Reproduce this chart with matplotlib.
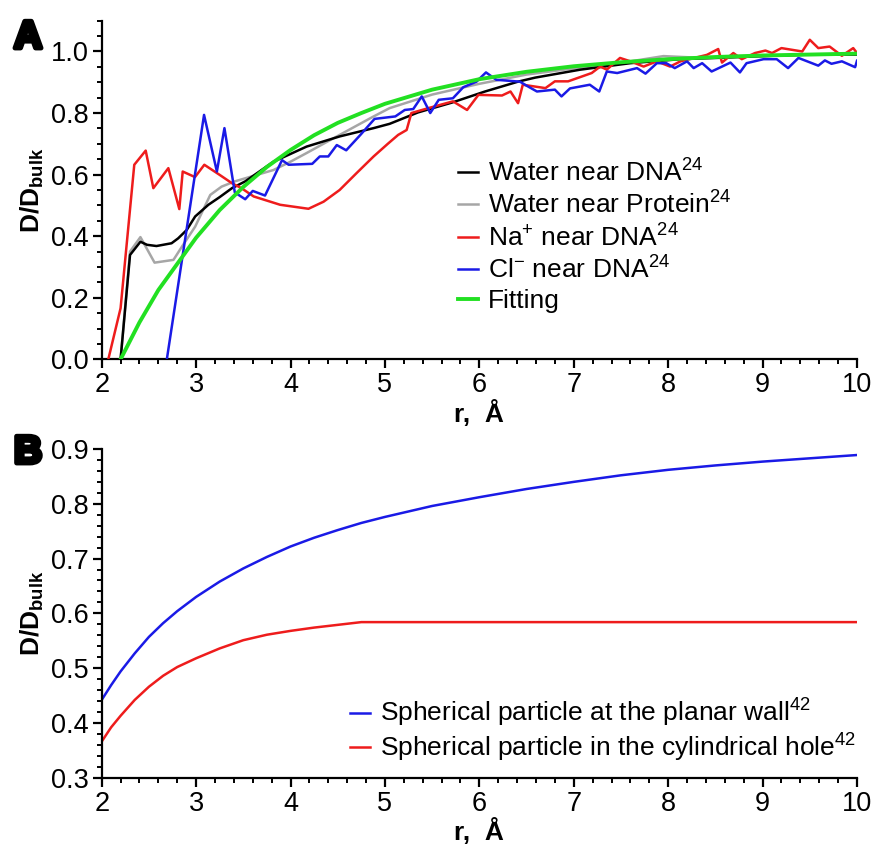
"""
Diffusion coefficient near surfaces, two panels.
A: simulated D/Dbulk of water and ions near DNA / protein with a fit.
B: hydrodynamic estimates for a sphere near a wall and in a cylindrical hole.
"""

import matplotlib
matplotlib.use("Agg")
import matplotlib.pyplot as plt
from matplotlib.ticker import MultipleLocator, FormatStrFormatter
import matplotlib.patheffects as pe

plt.rcParams['font.family'] = ['Liberation Sans', 'DejaVu Sans']
plt.rcParams['mathtext.fontset'] = 'custom'
plt.rcParams['mathtext.rm'] = 'Liberation Sans'
plt.rcParams['mathtext.it'] = 'Liberation Sans:italic'
plt.rcParams['mathtext.bf'] = 'Liberation Sans:bold'

# =========================================================================
#  Panel A data
# =========================================================================
r_wdna = [2.2, 2.3, 2.41, 2.48, 2.58, 2.74, 2.81, 2.9, 2.99, 3.13, 3.25, 3.38,
          3.52, 3.82, 4.17, 4.52, 4.88, 5.05, 5.35, 5.71, 6.06, 6.41, 6.59,
          7.07, 7.6, 8.13, 8.6, 9.0, 9.5, 10.0]
d_wdna = [0.0, 0.339, 0.382, 0.372, 0.368, 0.377, 0.393, 0.42, 0.464, 0.502,
          0.527, 0.556, 0.578, 0.642, 0.691, 0.724, 0.751, 0.765, 0.802, 0.834,
          0.87, 0.902, 0.915, 0.941, 0.962, 0.975, 0.98, 0.985, 0.99, 0.99]

r_wprot = [2.2, 2.3, 2.41, 2.56, 2.76, 2.85, 2.99, 3.15, 3.27, 3.41, 3.52, 3.82,
           4.0, 4.17, 4.52, 4.88, 5.05, 5.5, 6.0, 6.5, 7.0, 7.5, 7.95, 8.3,
           9.0, 9.5, 10.0]
d_wprot = [0.0, 0.35, 0.397, 0.314, 0.323, 0.366, 0.431, 0.534, 0.561, 0.578,
           0.588, 0.615, 0.642, 0.67, 0.729, 0.789, 0.816, 0.86, 0.895, 0.925,
           0.945, 0.963, 0.985, 0.98, 0.985, 0.99, 0.99]

r_na = [2.07, 2.2, 2.345, 2.466, 2.547, 2.706, 2.822, 2.858, 2.988, 3.087, 3.25,
        3.38, 3.48, 3.61, 3.89, 4.19, 4.35, 4.52, 4.7, 4.88, 5.03, 5.14, 5.23,
        5.28, 5.46, 5.72, 5.87, 5.99, 6.24, 6.33, 6.41, 6.46, 6.59, 6.7, 6.8,
        6.94, 7.07, 7.19, 7.28, 7.35, 7.49, 7.6, 7.74, 7.88, 8.02, 8.13, 8.41,
        8.53, 8.57, 8.69, 8.78, 8.92, 9.03, 9.1, 9.2, 9.42, 9.5, 9.59, 9.71,
        9.84, 9.96, 10.0]
d_na = [0.0, 0.166, 0.632, 0.678, 0.556, 0.621, 0.488, 0.61, 0.592, 0.632, 0.599,
        0.572, 0.556, 0.529, 0.502, 0.489, 0.512, 0.55, 0.605, 0.659, 0.70,
        0.729, 0.745, 0.80, 0.816, 0.838, 0.81, 0.859, 0.857, 0.87, 0.832, 0.892,
        0.886, 0.881, 0.903, 0.903, 0.917, 0.93, 0.951, 0.941, 0.979, 0.968,
        0.951, 0.968, 0.951, 0.968, 0.989, 1.008, 0.964, 0.995, 0.975, 0.995,
        1.003, 0.995, 1.011, 1.0, 1.038, 1.011, 1.016, 0.986, 1.011, 0.995]

r_cl = [2.69, 3.084, 3.22, 3.3, 3.41, 3.52, 3.6, 3.73, 3.91, 3.98, 4.23, 4.31,
        4.4, 4.49, 4.59, 4.74, 4.89, 5.11, 5.21, 5.3, 5.39, 5.48, 5.57, 5.72,
        5.83, 5.97, 6.07, 6.18, 6.43, 6.5, 6.61, 6.8, 6.87, 6.96, 7.17, 7.27,
        7.35, 7.46, 7.67, 7.76, 7.88, 7.98, 8.07, 8.2, 8.27, 8.36, 8.46, 8.66,
        8.76, 8.83, 9.01, 9.15, 9.27, 9.38, 9.59, 9.66, 9.73, 9.84, 9.98, 10.0]
d_cl = [0.0, 0.794, 0.61, 0.751, 0.542, 0.52, 0.547, 0.532, 0.647, 0.632, 0.635,
        0.659, 0.659, 0.696, 0.679, 0.729, 0.781, 0.789, 0.81, 0.813, 0.854,
        0.80, 0.843, 0.848, 0.884, 0.902, 0.932, 0.908, 0.902, 0.889, 0.87,
        0.876, 0.854, 0.88, 0.892, 0.87, 0.935, 0.93, 0.946, 0.928, 0.962,
        0.962, 0.946, 0.968, 0.946, 0.962, 0.935, 0.964, 0.932, 0.962, 0.975,
        0.975, 0.946, 0.979, 0.954, 0.971, 0.96, 0.968, 0.949, 0.97]

r_fit = [2.2, 2.4, 2.6, 2.8, 3.0, 3.25, 3.5, 3.75, 4.0, 4.25, 4.5, 4.75, 5.0,
         5.5, 6.0, 6.5, 7.0, 7.5, 8.0, 8.5, 9.0, 9.5, 10.0]
d_fit = [0.0, 0.12, 0.225, 0.31, 0.395, 0.485, 0.56, 0.625, 0.68, 0.728, 0.768,
         0.80, 0.83, 0.876, 0.91, 0.934, 0.952, 0.965, 0.975, 0.982, 0.987,
         0.99, 0.993]

# =========================================================================
#  Panel B data
# =========================================================================
r_wall = [2.0, 2.1, 2.2, 2.35, 2.5, 2.65, 2.8, 3.0, 3.25, 3.5, 3.75, 4.0, 4.25,
          4.5, 4.75, 5.0, 5.5, 6.0, 6.5, 7.0, 7.5, 8.0, 8.5, 9.0, 9.5, 10.0]
d_wall = [0.442, 0.469, 0.494, 0.527, 0.557, 0.582, 0.604, 0.63, 0.658, 0.682,
          0.703, 0.722, 0.738, 0.752, 0.765, 0.776, 0.796, 0.812, 0.827, 0.840,
          0.852, 0.862, 0.870, 0.877, 0.883, 0.889]

r_hole = [2.0, 2.1, 2.2, 2.35, 2.5, 2.65, 2.8, 3.0, 3.25, 3.5, 3.75, 4.0, 4.25,
          4.5, 4.75, 10.0]
d_hole = [0.366, 0.392, 0.413, 0.442, 0.466, 0.486, 0.502, 0.518, 0.536, 0.551,
          0.561, 0.568, 0.574, 0.579, 0.584, 0.584]

# =========================================================================
#  Figure
# =========================================================================
W, H = 887, 848
fig = plt.figure(figsize=(W / 100, H / 100), dpi=100)
axA = fig.add_axes([101.7 / W, 1 - 359.3 / H, 755.3 / W, 338.6 / H])
axB = fig.add_axes([101.7 / W, 1 - 777.7 / H, 755.3 / W, 328.7 / H])

RED = '#ee1c1c'
BLUE = '#1a1ae6'
GREEN = '#22e022'
GRAY = '#a6a6a6'

axA.plot(r_wdna, d_wdna, color='black', lw=1.8, label='Water near DNA$^{24}$', zorder=3)
axA.plot(r_wprot, d_wprot, color=GRAY, lw=1.8, label='Water near Protein$^{24}$', zorder=2)
axA.plot(r_na, d_na, color=RED, lw=1.8, label='Na$^{+}$ near DNA$^{24}$', zorder=4)
axA.plot(r_cl, d_cl, color=BLUE, lw=1.8, label='Cl$^{-}$ near DNA$^{24}$', zorder=5)
axA.plot(r_fit, d_fit, color=GREEN, lw=2.8, label='Fitting', zorder=6)

axB.plot(r_wall, d_wall, color=BLUE, lw=1.8,
         label='Spherical particle at the planar wall$^{42}$')
axB.plot(r_hole, d_hole, color=RED, lw=1.8,
         label='Spherical particle in the cylindrical hole$^{42}$')

for ax, ylim, ymaj, ymin in [(axA, (0, 1.1), 0.2, 0.05), (axB, (0.3, 0.9), 0.1, 0.02)]:
    ax.set_xlim(2, 10)
    ax.set_ylim(*ylim)
    ax.xaxis.set_major_locator(MultipleLocator(1))
    ax.xaxis.set_minor_locator(MultipleLocator(0.2))
    ax.yaxis.set_major_locator(MultipleLocator(ymaj))
    ax.yaxis.set_minor_locator(MultipleLocator(ymin))
    ax.yaxis.set_major_formatter(FormatStrFormatter('%.1f'))
    for s in ('top', 'right'):
        ax.spines[s].set_visible(False)
    for s in ('left', 'bottom'):
        ax.spines[s].set_linewidth(1.6)
    ax.tick_params(which='major', direction='out', length=6.5, width=1.6,
                   labelsize=19.5, pad=3)
    ax.tick_params(which='minor', direction='out', length=3.5, width=1.4)
    ax.set_xlabel('r,  Å', fontsize=19, fontweight='bold', labelpad=1)
    ax.set_ylabel(r'D/D$_{\mathbf{bulk}}$', fontsize=19, fontweight='bold', labelpad=3)
    ax.patch.set_alpha(0)

# y-axis of A has no major tick label above 1.0
axA.set_yticks([0.0, 0.2, 0.4, 0.6, 0.8, 1.0])

legA = axA.legend(loc='upper left', bbox_to_anchor=(458 / W, 1 - 159 / H),
                  bbox_transform=fig.transFigure, frameon=False, fontsize=19,
                  handlelength=0.75, handletextpad=0.4, labelspacing=0.2,
                  borderpad=0, borderaxespad=0)
legB = axB.legend(loc='upper left', bbox_to_anchor=(350 / W, 1 - 697 / H),
                  bbox_transform=fig.transFigure, frameon=False, fontsize=19,
                  handlelength=0.75, handletextpad=0.4, labelspacing=0.1,
                  borderpad=0, borderaxespad=0)

for txt, y in [('A', 48), ('B', 463)]:
    fig.text(14 / W, 1 - y / H, txt, fontsize=28, fontweight='bold',
             ha='left', va='baseline',
             path_effects=[pe.withStroke(linewidth=3.5, foreground='black')])

fig.savefig('out.png', dpi=100)
